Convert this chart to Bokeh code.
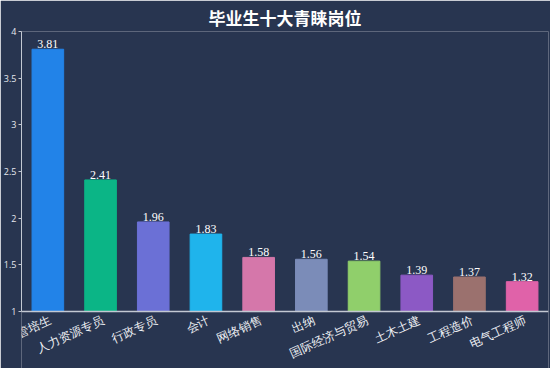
from bokeh.plotting import figure
from bokeh.models import ColumnDataSource, FixedTicker, LabelSet, Span
from bokeh.embed import file_html
from bokeh.resources import INLINE

categories = ["管培生", "人力资源专员", "行政专员", "会计", "网络销售", "出纳", "国际经济与贸易", "土木土建", "工程造价", "电气工程师"]
values = [3.81, 2.41, 1.96, 1.83, 1.58, 1.56, 1.54, 1.39, 1.37, 1.32]
colors = ["#2283e8", "#0bb586", "#6b70d6", "#1fb4ec", "#d577aa", "#7b8cb8", "#90cf6b", "#8c59c5", "#9b716e", "#e062a9"]
y_ticks = [1, 1.5, 2, 2.5, 3, 3.5, 4]
y_tick_labels = ["1", "1.5", "2", "2.5", "3", "3.5", "4"]

BG = "#283550"
AX = "#c3c8d2"
CJK = "Noto Sans CJK SC"
NUM = "'Open Sans', sans-serif"

src = ColumnDataSource(dict(cat=categories, val=values, color=colors,
                            lbl=[f"{v:.2f}" for v in values],
                            base=[y_ticks[0]] * len(categories)))

# extra room below the baseline (y=1) holds the rotated category labels
p = figure(x_range=categories, y_range=(0.39, y_ticks[-1]), width=550, height=368,
           output_backend="svg", toolbar_location=None, x_axis_location=None,
           title="毕业生十大青睐岗位",
           background_fill_color=BG, border_fill_color=BG,
           min_border_left=8, min_border_right=2, min_border_top=0, min_border_bottom=0)
p.outline_line_color = None
p.grid.grid_line_color = None

p.title.align = "center"
p.title.text_color = "white"
p.title.text_font = CJK
p.title.text_font_size = "17px"
p.title.text_font_style = "bold"
p.title.offset = 0
p.title.standoff = 4

p.vbar(x="cat", top="val", bottom=y_ticks[0], width=0.6, color="color", source=src)

p.add_layout(Span(location=y_ticks[0], dimension="width", line_color=AX, line_width=1.5))

labels = LabelSet(x="cat", y="val", text="lbl", source=src, text_align="center",
                  text_baseline="bottom", y_offset=1, text_color="#ffffff",
                  text_font_size="12px", text_font=NUM)
p.add_layout(labels)

xlabels = LabelSet(x="cat", y="base", text="cat", source=src, text_align="right",
                   text_baseline="top", angle=0.42, x_offset=0, y_offset=-2,
                   text_color="#eef0f4", text_font_size="12px", text_font=CJK)
p.add_layout(xlabels)

p.yaxis.ticker = FixedTicker(ticks=y_ticks)
p.yaxis.bounds = (y_ticks[0], y_ticks[-1])
p.yaxis.major_label_overrides = {t: l for t, l in zip(y_ticks, y_tick_labels)}
p.yaxis.major_label_text_font_size = "9px"
p.yaxis.major_label_text_color = "#e6e8ee"
p.yaxis.major_label_text_font = NUM
p.yaxis.axis_line_color = AX
p.yaxis.major_tick_line_color = AX
p.yaxis.major_tick_out = 3
p.yaxis.major_tick_in = 0
p.yaxis.minor_tick_line_color = None
p.yaxis.major_label_standoff = 2

open("out.html", "w").write(file_html(p, INLINE))
